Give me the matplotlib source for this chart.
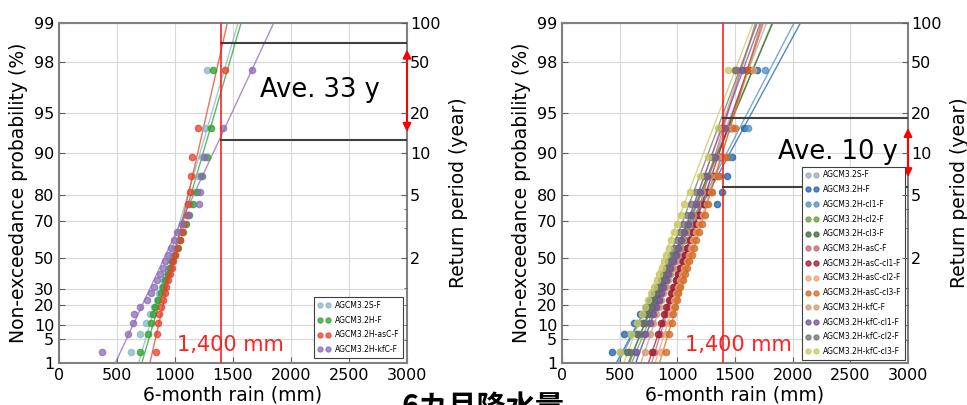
import numpy as np
import matplotlib
matplotlib.use('Agg')
import matplotlib.pyplot as plt

# 6-month rain (mm), sorted ascending, one list per run
left_names = ['AGCM3.2S-F', 'AGCM3.2H-F', 'AGCM3.2H-asC-F', 'AGCM3.2H-kfC-F']
left_colors = ['#86b8c0', '#2ca02c', '#e8402c', '#8c6bb8']
left_rain = [
    [620, 700, 750, 785, 815, 842, 866, 887, 907, 927, 947, 967, 988, 1009, 1031, 1054, 1078, 1103, 1130, 1160, 1195, 1235, 1262, 1273],
    [700, 770, 795, 808, 830, 855, 878, 898, 918, 938, 958, 978, 1000, 1022, 1046, 1070, 1096, 1124, 1156, 1190, 1235, 1278, 1310, 1330],
    [836, 842, 856, 865, 880, 895, 910, 925, 940, 955, 970, 985, 1000, 1020, 1040, 1060, 1080, 1100, 1112, 1125, 1138, 1144, 1201, 1431],
    [368, 598, 640, 645, 700, 756, 790, 820, 848, 872, 895, 918, 940, 965, 990, 1020, 1060, 1110, 1207, 1216, 1225, 1250, 1411, 1661],
]

right_names = ['AGCM3.2S-F', 'AGCM3.2H-F', 'AGCM3.2H-cl1-F', 'AGCM3.2H-cl2-F',
               'AGCM3.2H-cl3-F', 'AGCM3.2H-asC-F', 'AGCM3.2H-asC-cl1-F',
               'AGCM3.2H-asC-cl2-F', 'AGCM3.2H-asC-cl3-F', 'AGCM3.2H-kfC-F',
               'AGCM3.2H-kfC-cl1-F', 'AGCM3.2H-kfC-cl2-F', 'AGCM3.2H-kfC-cl3-F']
right_colors = ['#9aa8b8', '#1f5fa8', '#4a90c0', '#6a9a3a', '#3a6a3a', '#c86070',
                '#9a1830', '#f0a070', '#d06a20', '#d09a70', '#7050a0', '#707070',
                '#c8c860']
right_rain = [
    [640, 700, 740, 780, 810, 840, 865, 890, 910, 935, 960, 985, 1010, 1035, 1060, 1090, 1120, 1155, 1195, 1240, 1300, 1370, 1450, 1550],
    [430, 540, 620, 680, 725, 765, 800, 835, 865, 895, 925, 955, 990, 1020, 1060, 1100, 1150, 1200, 1340, 1385, 1430, 1470, 1580, 1690],
    [500, 590, 650, 695, 735, 765, 795, 825, 855, 885, 915, 945, 975, 1005, 1040, 1080, 1120, 1170, 1230, 1290, 1360, 1450, 1610, 1760],
    [600, 680, 720, 760, 795, 825, 850, 875, 900, 925, 950, 975, 1000, 1030, 1060, 1090, 1120, 1160, 1200, 1250, 1310, 1380, 1470, 1600],
    [560, 650, 700, 740, 775, 805, 835, 860, 885, 910, 935, 960, 985, 1010, 1040, 1070, 1100, 1140, 1180, 1230, 1290, 1360, 1450, 1640],
    [800, 850, 880, 900, 920, 940, 955, 970, 990, 1005, 1020, 1040, 1060, 1080, 1100, 1125, 1150, 1180, 1215, 1255, 1300, 1370, 1440, 1520],
    [780, 830, 860, 885, 905, 925, 945, 965, 985, 1005, 1025, 1045, 1065, 1085, 1110, 1135, 1160, 1190, 1230, 1270, 1320, 1390, 1470, 1600],
    [860, 900, 925, 945, 960, 975, 990, 1005, 1020, 1040, 1060, 1080, 1100, 1120, 1140, 1165, 1190, 1220, 1255, 1290, 1345, 1400, 1470, 1660],
    [900, 930, 950, 965, 980, 995, 1010, 1025, 1045, 1065, 1085, 1105, 1125, 1145, 1165, 1190, 1215, 1240, 1270, 1300, 1350, 1420, 1500, 1600],
    [720, 760, 790, 815, 840, 860, 880, 900, 920, 940, 960, 980, 1000, 1025, 1050, 1075, 1105, 1135, 1170, 1210, 1280, 1350, 1420, 1500],
    [640, 720, 760, 790, 815, 840, 860, 880, 900, 920, 940, 960, 985, 1010, 1035, 1060, 1090, 1120, 1160, 1200, 1260, 1330, 1410, 1560],
    [580, 660, 700, 730, 760, 785, 810, 835, 860, 880, 900, 920, 945, 970, 995, 1020, 1050, 1080, 1120, 1160, 1230, 1300, 1380, 1500],
    [500, 600, 650, 690, 720, 745, 770, 795, 820, 845, 865, 885, 905, 925, 945, 970, 1000, 1030, 1060, 1110, 1200, 1270, 1350, 1440],
]

prob_ticks = [1, 5, 10, 20, 30, 50, 70, 80, 90, 95, 98, 99]
period_ticks = [2, 5, 10, 20, 50, 100]
period_minor = [1.05, 1.11, 1.25, 1.43, 3, 4]
x_ticks = [0, 500, 1000, 1500, 2000, 2500, 3000]
threshold = 1400
# return periods (year) of the black range lines and the red arrow ends
left_range = [12.6, 70]
left_arrow = [14.5, 62]
right_range = [5.7, 18.4]
right_arrow = [6.7, 15.5]


def gy(p):
    # Gumbel reduced variate
    return -np.log(-np.log(p))


def ty(T):
    return gy(1 - 1 / np.asarray(T, dtype=float))


fig = plt.figure(figsize=(9.67, 4.05), dpi=100)


def panel(rect, names, colors, data, rng, arr, ave_text, ave_xy, leg_anchor, leg_size):
    ax = fig.add_axes(rect)
    for name, col, vals in zip(names, colors, data):
        v = np.asarray(vals, dtype=float)
        n = len(v)
        pp = (np.arange(1, n + 1) - 0.44) / (n + 0.12)
        beta = v.std(ddof=1) * np.sqrt(6) / np.pi
        mu = v.mean() - 0.5772 * beta
        yl = np.array([gy(0.003), gy(0.999)])
        ax.plot(mu + beta * yl, yl, color=col, lw=1, alpha=0.75, zorder=2)
        ax.plot(v, gy(pp), 'o', color=col, ms=4.5, mec=col, alpha=0.75,
                label=name, zorder=3)
    ax.axvline(threshold, color='#ff2020', lw=1.2, zorder=4)
    for T in rng:
        ax.plot([threshold, 3000], [ty(T), ty(T)], color='#404040', lw=1.5, zorder=4)
    ax.annotate('', xy=(3000, ty(arr[1])), xytext=(3000, ty(arr[0])),
                arrowprops=dict(arrowstyle='<|-|>', color='red', lw=1.5,
                                mutation_scale=12, shrinkA=0, shrinkB=0),
                annotation_clip=False, zorder=6)
    ax.text(ave_xy[0], ty(ave_xy[1]), ave_text, fontsize=18.5, ha='center', va='center', zorder=6)

    ax.set_xlim(0, 3000)
    ax.set_ylim(gy(0.01), gy(0.99))
    ax.set_xticks(x_ticks)
    ax.set_yticks(gy(np.array(prob_ticks) / 100))
    ax.set_yticklabels([str(p) for p in prob_ticks])
    ax.tick_params(direction='in', labelsize=11.5, length=4, color='#606060')
    ax.grid(True, color='#d8d8d8', lw=0.8)
    ax.set_axisbelow(True)
    ax.set_xlabel('6-month rain (mm)', fontsize=13.5, labelpad=2)
    ax.set_ylabel('Non-exceedance probability (%)', fontsize=13.5, labelpad=4)
    for s in ax.spines.values():
        s.set_color('#808080')
        s.set_linewidth(1.5)

    ax2 = ax.twinx()
    ax2.set_ylim(ax.get_ylim())
    ax2.set_yticks(ty(period_ticks))
    ax2.set_yticklabels([str(t) for t in period_ticks])
    ax2.set_yticks(ty(period_minor), minor=True)
    ax2.tick_params(direction='in', labelsize=11.5, length=4, pad=2, color='#606060')
    ax2.tick_params(which='minor', direction='in', length=2.5, color='#606060')
    ax2.set_ylabel('Return period (year)', fontsize=13.5, labelpad=6)
    for s in ax2.spines.values():
        s.set_visible(False)

    leg = ax.legend(loc='lower right', bbox_to_anchor=leg_anchor, numpoints=2,
                    fontsize=leg_size, fancybox=False, framealpha=1,
                    edgecolor='#404040', borderaxespad=0, handlelength=1.6,
                    handletextpad=0.6, labelspacing=0.75, borderpad=0.5,
                    markerscale=0.8)
    leg.set_zorder(7)
    leg.get_frame().set_linewidth(0.8)
    return ax


axl = panel([59 / 967, 42 / 405, 348 / 967, 340 / 405], left_names, left_colors,
            left_rain, left_range, left_arrow, 'Ave. 33 y', (2250, 30),
            (0.989, 0.015), 5.5)
axl.text(1017, -1.2, '1,400 mm', color='#ff2020', fontsize=15, va='center', zorder=6)

axr = panel([562 / 967, 42 / 405, 346 / 967, 340 / 405], right_names, right_colors,
            right_rain, right_range, right_arrow, 'Ave. 10 y', (2390, 10.2),
            (0.991, 0.009), 5.5)
axr.text(1066, -1.2, '1,400 mm', color='#ff2020', fontsize=15, va='center', zorder=6)

# caption that runs off the bottom edge, as in the source image
fig.text(0.499, 0.032, '6カ月降水量', fontsize=21, fontweight='bold',
         family=['Noto Sans CJK JP', 'DejaVu Sans'], ha='center', va='top')

fig.savefig('out.png', dpi=100)
